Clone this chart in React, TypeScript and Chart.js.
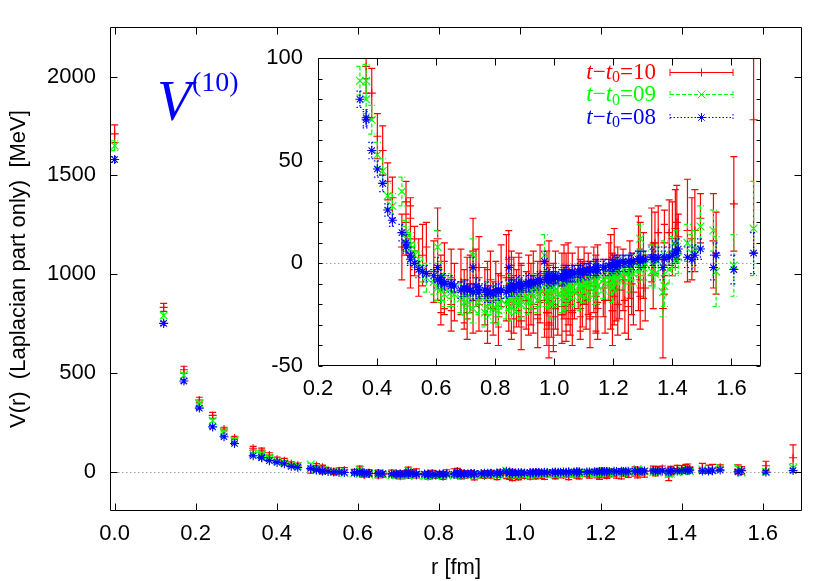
import React, { useEffect, useRef } from "react";
import { Chart, registerables } from "chart.js";

Chart.register(...registerables);
Chart.defaults.font.family = '"Liberation Sans", Arial, sans-serif';
Chart.defaults.color = "#000";

// r [fm] for each lattice point orbit
const rFm = [
  0, 0.121, 0.171, 0.209, 0.242, 0.270, 0.296, 0.342, 0.363, 0.363,
  0.382, 0.401, 0.419, 0.436, 0.452, 0.484, 0.498, 0.498, 0.513, 0.513,
  0.527, 0.541, 0.554, 0.567, 0.592, 0.605, 0.605, 0.616, 0.616, 0.628,
  0.628, 0.651, 0.651, 0.662, 0.684, 0.695, 0.695, 0.705, 0.705, 0.715,
  0.725, 0.725, 0.735, 0.745, 0.745, 0.765, 0.774, 0.774, 0.774, 0.784,
  0.793, 0.802, 0.811, 0.811, 0.820, 0.838, 0.846, 0.846, 0.855, 0.855,
  0.855, 0.863, 0.863, 0.872, 0.880, 0.880, 0.888, 0.888, 0.888, 0.905,
  0.913, 0.913, 0.921, 0.929, 0.929, 0.944, 0.944, 0.952, 0.952, 0.967,
  0.975, 0.975, 0.975, 0.982, 0.982, 0.982, 0.990, 0.997, 0.997, 1.004,
  1.004, 1.012, 1.026, 1.026, 1.033, 1.033, 1.040, 1.040, 1.040, 1.047,
  1.047, 1.054, 1.061, 1.061, 1.068, 1.081, 1.088, 1.088, 1.088, 1.095,
  1.101, 1.108, 1.115, 1.121, 1.121, 1.134, 1.141, 1.141, 1.141, 1.147,
  1.147, 1.166, 1.172, 1.185, 1.191, 1.197, 1.197, 1.203, 1.203, 1.209,
  1.215, 1.215, 1.221, 1.233, 1.239, 1.251, 1.256, 1.262, 1.268, 1.285,
  1.291, 1.291, 1.291, 1.302, 1.308, 1.330, 1.335, 1.341, 1.352, 1.368,
  1.373, 1.373, 1.389, 1.400, 1.410, 1.415, 1.420, 1.451, 1.466, 1.476,
  1.495, 1.539, 1.548, 1.608, 1.675,
];

// t - t0 = 10 (red)
const v10 = [
  1710, 831, 515, 362, 284, 215, 170, 118, 96, 104,
  83, 62, 55, 40, 32, 8, 14, 30, 22, 8,
  6, -2, 4, 8, -4, -1, 12, -10, -18, -6,
  -12, -8, -20, -14, -9, -16, -20, -12, -24, -10,
  -18, 6, -7, -20, -2, -16, -25, -12, -18, -8,
  -22, -14, -18, -26, -6, -7, -19, 2, -22, -14,
  -8, -20, -12, -17, -14, -9, -16, -28, -13, -18,
  -10, -22, -15, -8, -20, -12, -27, -14, -5, -18,
  -18, -24, -9, -30, -15, -4, -22, -20, -26, -8,
  -17, -21, -10, -25, -14, -6, -19, -11, -23, -4,
  -16, -20, -9, -24, -14, -7, -19, -12, -22, -15,
  -6, -18, -10, -26, -13, -8, -20, -11, -16, -5,
  -22, -12, -18, -4, -9, -23, -9, 2, -16, -12,
  -20, -6, -13, -8, -18, -21, -3, -10, -14, 0,
  4, -16, -8, -1, -12, 9, -6, 10, 15, -22,
  2, 10, 15, 12, 17, 20, 13, 16, 12, 16,
  22, 11, 5, 29, 70,
];
const e10 = [
  45, 20, 18, 14, 15, 9, 8, 9, 13, 14,
  12, 11, 12, 9, 10, 16, 10, 10, 10, 20,
  12, 14, 15, 12, 15, 17, 15, 14, 12, 16,
  13, 15, 13, 14, 16, 13, 12, 15, 13, 14,
  16, 16, 14, 13, 15, 14, 14, 13, 15, 14,
  13, 15, 13, 14, 15, 21, 14, 14, 15, 13,
  14, 14, 15, 14, 17, 14, 15, 14, 13, 14,
  14, 13, 15, 14, 14, 13, 14, 15, 14, 18,
  14, 16, 15, 16, 14, 15, 14, 20, 17, 14,
  15, 14, 15, 14, 13, 15, 14, 16, 15, 14,
  14, 15, 14, 16, 13, 15, 14, 14, 15, 16,
  14, 14, 15, 15, 14, 16, 14, 15, 17, 14,
  15, 14, 16, 14, 23, 17, 14, 15, 14, 16,
  15, 14, 14, 15, 16, 16, 14, 15, 16, 23,
  16, 16, 15, 16, 16, 18, 16, 15, 13, 24,
  17, 16, 16, 18, 19, 18, 11, 25, 20, 20,
  12, 23, 20, 23, 65,
];

// t - t0 = 09 (green)
const v09 = [
  1650, 790, 488, 345, 257, 202, 160, 89, 80, 89,
  70, 53, 45, 33, 28, 35, 12, 15, 7, 9,
  4, 0, -3, -7, -9, -12, 8, -13, -6, -15,
  -12, -14, -11, -15, -17, -19, -14, -20, -16, -18,
  -22, 4, -14, -19, -17, -24, -18, -21, -16, -19,
  -22, -17, -20, -23, -18, -20, -17, -10, -18, -21,
  -15, -19, -16, -17, -15, -13, -18, -20, -14, -16,
  -18, -13, -14, -16, -12, -15, -18, -14, -12, 4,
  -13, -15, -10, -16, -12, -14, -20, -14, -11, -13,
  -10, -15, -17, -9, -14, -8, -12, -16, -9, -13,
  -10, -12, -11, -8, -14, -9, -16, -12, -7, -10,
  -13, -9, -11, -8, -12, -10, -9, -13, -6, -11,
  -7, -8, -10, -6, -9, -12, -5, -8, -6, -3,
  -7, -4, -6, -3, -5, -4, -7, -2, -5, 0,
  12, -3, 1, -2, 0, -4, 2, -5, 1, -14,
  -11, 4, -3, 5, 2, 8, 3, 10, 5, 7,
  18, 16, -4, -1, 17,
];
const e09 = [
  25, 14, 12, 10, 10, 8, 7, 7, 7, 8,
  7, 6, 6, 6, 6, 7, 6, 6, 6, 6,
  6, 6, 6, 7, 6, 6, 8, 6, 7, 6,
  6, 7, 6, 6, 7, 6, 6, 7, 6, 6,
  7, 8, 7, 6, 7, 7, 6, 6, 7, 6,
  7, 6, 6, 7, 6, 7, 6, 8, 6, 7,
  7, 6, 6, 7, 6, 6, 6, 7, 6, 6,
  7, 6, 6, 6, 7, 6, 6, 7, 6, 10,
  6, 6, 7, 6, 6, 7, 7, 6, 6, 6,
  6, 6, 7, 6, 6, 6, 6, 7, 6, 7,
  6, 6, 6, 6, 7, 6, 7, 6, 6, 6,
  6, 7, 6, 6, 6, 6, 6, 7, 6, 6,
  6, 6, 7, 6, 6, 7, 6, 6, 6, 6,
  6, 6, 6, 6, 7, 6, 7, 6, 6, 6,
  7, 6, 6, 6, 6, 7, 7, 7, 7, 12,
  10, 7, 7, 8, 8, 8, 8, 9, 9, 9,
  10, 10, 17, 15, 23,
];

// t - t0 = 08 (blue)
const v08 = [
  1580, 750, 458, 321, 226, 176, 142, 80, 70, 71,
  55, 46, 39, 26, 21, 15, 8, 10, 2, 4,
  0, -3, -4, -5, -6, -8, -2, -9, -7, -10,
  -9, -11, -10, -11, -13, -12, -12, -13, -12, -13,
  -14, -2, -11, -14, -12, -13, -15, -14, -13, -14,
  -15, -13, -14, -13, -13, -14, -12, -2, -13, -12,
  -10, -12, -11, -11, -11, -10, -11, -12, -10, -10,
  -11, -9, -9, -10, -9, -9, -8, -8, -9, 1,
  -8, -7, -6, -8, -7, -6, -8, -8, -6, -7,
  -6, -7, -7, -6, -7, -5, -6, -5, -5, -6,
  -5, -6, -5, -4, -5, -4, -5, -4, -4, -4,
  -4, -3, -4, -3, -3, -3, -3, -2, -2, -3,
  -2, -2, -2, -1, -2, -1, -1, -1, 0, 0,
  -1, 0, 0, 1, 0, 1, 0, 1, 1, 2,
  1, 2, 2, 2, 2, 3, 3, 2, 3, -2,
  3, 2, 3, 4, 6, 5, 7, 3, 2, 4,
  7, -2, 4, -3, 5,
];
const e08 = [
  15, 10, 9, 8, 8, 6, 6, 4, 4, 4,
  4, 4, 4, 3, 3, 4, 3, 4, 3, 4,
  3, 4, 3, 4, 3, 4, 5, 3, 4, 3,
  4, 3, 4, 3, 4, 3, 4, 3, 4, 3,
  4, 5, 4, 3, 4, 3, 4, 3, 4, 3,
  4, 3, 4, 3, 4, 3, 4, 5, 3, 4,
  3, 4, 3, 4, 3, 4, 3, 4, 3, 4,
  3, 4, 3, 4, 3, 4, 3, 4, 3, 5,
  4, 3, 4, 3, 4, 3, 4, 3, 4, 3,
  4, 3, 4, 3, 4, 3, 4, 3, 4, 3,
  4, 3, 4, 3, 4, 3, 4, 3, 4, 3,
  4, 3, 4, 3, 4, 3, 4, 3, 4, 3,
  4, 3, 4, 3, 4, 3, 4, 3, 4, 3,
  4, 3, 4, 3, 4, 3, 4, 3, 4, 4,
  4, 4, 4, 4, 4, 5, 4, 4, 5, 6,
  5, 4, 5, 5, 5, 5, 5, 5, 6, 5,
  5, 6, 6, 7, 10,
];

const mainXTicks = [0, 0.2, 0.4, 0.6, 0.8, 1.0, 1.2, 1.4, 1.6];
const mainYTicks = [0, 500, 1000, 1500, 2000];
const insetXTicks = [0.2, 0.4, 0.6, 0.8, 1.0, 1.2, 1.4, 1.6];
const insetYLabels = [-50, 0, 50, 100];
const insetYMarks = [-50, -40, -30, -20, -10, 0, 10, 20, 30, 40, 50, 60, 70, 80, 90, 100];

const RED = "#ff0000";
const GREEN = "#00ff00";
const BLUE = "#0000ff";
const FS = 22;

const series = [
  { key: "08", values: v08, errors: e08, color: BLUE, style: "star", radius: 4.5, dash: [1.5, 2] },
  { key: "09", values: v09, errors: e09, color: GREEN, style: "crossRot", radius: 5.5, dash: [4, 2] },
  { key: "10", values: v10, errors: e10, color: RED, style: "cross", radius: 4, dash: [] as number[] },
];

function buildDatasets(clip: any) {
  return series.map((s) => ({
    label: "t\u2212t0=" + s.key,
    data: rFm.map((r, i) => ({ x: r, y: s.values[i] })),
    errors: s.errors,
    dash: s.dash,
    pointStyle: s.style,
    pointRadius: s.radius,
    pointHoverRadius: s.radius,
    pointBorderWidth: 1.1,
    borderColor: s.color,
    backgroundColor: s.color,
    pointBorderColor: s.color,
    pointBackgroundColor: s.color,
    showLine: false,
    clip,
  }));
}

const errorBars = {
  id: "errorBars",
  beforeDatasetDraw(chart: any, args: any) {
    const ds = chart.data.datasets[args.index];
    const { ctx, chartArea: a } = chart;
    const xs = chart.scales.x;
    const ys = chart.scales.y;
    ctx.save();
    ctx.beginPath();
    ctx.rect(a.left, a.top, a.right - a.left, a.bottom - a.top);
    ctx.clip();
    ctx.strokeStyle = ds.borderColor;
    ctx.lineWidth = 1.2;
    ctx.setLineDash(ds.dash);
    ctx.beginPath();
    ds.data.forEach((p: any, i: number) => {
      const e = ds.errors[i];
      const px = xs.getPixelForValue(p.x);
      const t = ys.getPixelForValue(p.y + e);
      const b = ys.getPixelForValue(p.y - e);
      ctx.moveTo(px, t);
      ctx.lineTo(px, b);
      ctx.moveTo(px - 3.5, t);
      ctx.lineTo(px + 3.5, t);
      ctx.moveTo(px - 3.5, b);
      ctx.lineTo(px + 3.5, b);
    });
    ctx.stroke();
    ctx.restore();
  },
};

function framePlugin(xt: number[], yt: number[], xLen: number, yLen: number) {
  return {
    id: "frame",
    beforeDatasetsDraw(chart: any) {
      const { ctx, chartArea: a } = chart;
      const y0 = Math.round(chart.scales.y.getPixelForValue(0)) + 0.5;
      ctx.save();
      ctx.strokeStyle = "#a0a0a0";
      ctx.lineWidth = 1;
      ctx.setLineDash([1.5, 2.5]);
      ctx.beginPath();
      ctx.moveTo(a.left, y0);
      ctx.lineTo(a.right, y0);
      ctx.stroke();
      ctx.restore();
    },
    afterDatasetsDraw(chart: any) {
      const { ctx, chartArea: a } = chart;
      const l = Math.round(a.left) + 0.5;
      const r = Math.round(a.right) - 0.5;
      const t = Math.round(a.top) + 0.5;
      const b = Math.round(a.bottom) - 0.5;
      ctx.save();
      ctx.strokeStyle = "#000";
      ctx.lineWidth = 1;
      ctx.setLineDash([]);
      ctx.beginPath();
      ctx.rect(l, t, r - l, b - t);
      xt.forEach((v) => {
        const x = Math.round(chart.scales.x.getPixelForValue(v)) + 0.5;
        ctx.moveTo(x, b);
        ctx.lineTo(x, b - xLen);
        ctx.moveTo(x, t);
        ctx.lineTo(x, t + xLen);
      });
      yt.forEach((v) => {
        const y = Math.round(chart.scales.y.getPixelForValue(v)) + 0.5;
        ctx.moveTo(l, y);
        ctx.lineTo(l + yLen, y);
        ctx.moveTo(r, y);
        ctx.lineTo(r - yLen, y);
      });
      ctx.stroke();
      ctx.restore();
    },
  };
}

function drawSymbol(ctx: CanvasRenderingContext2D, style: string, x: number, y: number, r: number) {
  ctx.beginPath();
  if (style === "cross" || style === "star") {
    ctx.moveTo(x - r, y);
    ctx.lineTo(x + r, y);
    ctx.moveTo(x, y - r);
    ctx.lineTo(x, y + r);
  }
  if (style === "crossRot" || style === "star") {
    const d = r * Math.SQRT1_2;
    ctx.moveTo(x - d, y - d);
    ctx.lineTo(x + d, y + d);
    ctx.moveTo(x - d, y + d);
    ctx.lineTo(x + d, y - d);
  }
  ctx.stroke();
}

// legend inside inset (offset = inset canvas position)
function keyPlugin(ox: number, oy: number) {
  return {
    id: "key",
    afterDraw(chart: any) {
      const ctx: CanvasRenderingContext2D = chart.ctx;
      const rows = [...series].reverse();
      const baselines = [78.5, 101, 123.5];
      const fs = 23;
      rows.forEach((s, k) => {
        const base = baselines[k] - oy;
        const parts: [string, string, number][] = [
          ["t", `italic ${fs}px "Liberation Serif"`, 0],
          ["\u2212", `${fs}px "Liberation Serif"`, 0],
          ["t", `italic ${fs}px "Liberation Serif"`, 0],
          ["0", `16px "Liberation Serif"`, 3.5],
          ["=" + s.key, `${fs}px "Liberation Serif"`, 0],
        ];
        ctx.save();
        ctx.textAlign = "left";
        ctx.textBaseline = "alphabetic";
        ctx.fillStyle = s.color;
        let w = 0;
        parts.forEach(([txt, f]) => {
          ctx.font = f;
          w += ctx.measureText(txt).width;
        });
        let x = 656 - ox - w;
        parts.forEach(([txt, f, dy]) => {
          ctx.font = f;
          ctx.fillText(txt, x, base + dy);
          x += ctx.measureText(txt).width;
        });
        const sy = Math.round(base - 7) + 0.5;
        const x1 = 670 - ox;
        const x2 = 733 - ox;
        ctx.strokeStyle = s.color;
        ctx.lineWidth = 1;
        ctx.setLineDash(s.dash);
        ctx.beginPath();
        ctx.moveTo(x1, sy);
        ctx.lineTo(x2, sy);
        ctx.moveTo(x1, sy - 3.5);
        ctx.lineTo(x1, sy + 3.5);
        ctx.moveTo(x2, sy - 3.5);
        ctx.lineTo(x2, sy + 3.5);
        ctx.stroke();
        ctx.setLineDash([]);
        drawSymbol(ctx, s.style, (x1 + x2) / 2, sy, s.radius);
        ctx.restore();
      });
    },
  };
}

const labelPlugin = {
  id: "vlabel",
  afterDraw(chart: any) {
    const ctx: CanvasRenderingContext2D = chart.ctx;
    ctx.save();
    ctx.fillStyle = BLUE;
    ctx.textAlign = "left";
    ctx.textBaseline = "alphabetic";
    ctx.font = 'italic 56px "Liberation Serif"';
    ctx.fillText("V", 157, 120);
    ctx.font = '28px "Liberation Serif"';
    ctx.fillText("(10)", 192, 91);
    ctx.restore();
  },
};

function axisCommon(ticks: number[], fmt: (v: number) => string, pad: number) {
  return {
    type: "linear",
    grid: { display: false, drawTicks: false },
    border: { display: false },
    afterBuildTicks: (s: any) => {
      s.ticks = ticks.map((v) => ({ value: v }));
    },
    ticks: {
      padding: pad,
      color: "#000",
      font: { size: FS },
      autoSkip: false,
      maxRotation: 0,
      minRotation: 0,
      callback: (v: any) => fmt(Number(v)),
    },
  };
}

export default function App() {
  const mainRef = useRef<HTMLCanvasElement>(null);
  const insetRef = useRef<HTMLCanvasElement>(null);

  useEffect(() => {
    const main = new Chart(mainRef.current as HTMLCanvasElement, {
      type: "scatter",
      data: { datasets: buildDatasets(undefined) as any },
      options: {
        responsive: false,
        animation: false,
        events: [],
        layout: { padding: { top: 23, right: 28, left: 0, bottom: 0 } },
        plugins: { legend: { display: false }, tooltip: { enabled: false } },
        scales: {
          x: {
            ...axisCommon(mainXTicks, (v) => v.toFixed(1), 10),
            min: -0.0115,
            max: 1.697,
            afterFit: (s: any) => {
              s.height = 70;
            },
            title: { display: true, text: "r [fm]", color: "#000", font: { size: FS }, padding: { top: 0, bottom: 0 } },
          },
          y: {
            ...axisCommon(mainYTicks, (v) => String(v), 14),
            min: -200,
            max: 2250,
            afterFit: (s: any) => {
              s.width = 110;
            },
            title: {
              display: true,
              text: "V(r)  (Laplacian part only)  [MeV]",
              color: "#000",
              font: { size: FS },
              padding: { top: 6, bottom: 0 },
            },
          },
        } as any,
      },
      plugins: [errorBars, framePlugin(mainXTicks, mainYTicks, 7, 7), labelPlugin] as any,
    });

    const inset = new Chart(insetRef.current as HTMLCanvasElement, {
      type: "scatter",
      data: { datasets: buildDatasets(0) as any },
      options: {
        responsive: false,
        animation: false,
        events: [],
        layout: { padding: { top: 22, right: 19, left: 0, bottom: 0 } },
        plugins: { legend: { display: false }, tooltip: { enabled: false } },
        scales: {
          x: {
            ...axisCommon(insetXTicks, (v) => v.toFixed(1), 10),
            min: 0.2,
            max: 1.7,
            afterFit: (s: any) => {
              s.height = 44;
            },
          },
          y: {
            ...axisCommon(insetYLabels, (v) => String(v), 15),
            min: -50,
            max: 100,
            afterFit: (s: any) => {
              s.width = 68;
            },
          },
        } as any,
      },
      plugins: [errorBars, framePlugin(insetXTicks, insetYMarks, 7, 4), keyPlugin(250, 30)] as any,
    });

    return () => {
      main.destroy();
      inset.destroy();
    };
  }, []);

  return (
    <div style={{ position: "fixed", left: 0, top: 0, width: 830, height: 581, background: "#fff" }}>
      <canvas ref={mainRef} width={830} height={581} style={{ position: "absolute", left: 0, top: 0 }} />
      <canvas ref={insetRef} width={530} height={380} style={{ position: "absolute", left: 250, top: 30 }} />
    </div>
  );
}
